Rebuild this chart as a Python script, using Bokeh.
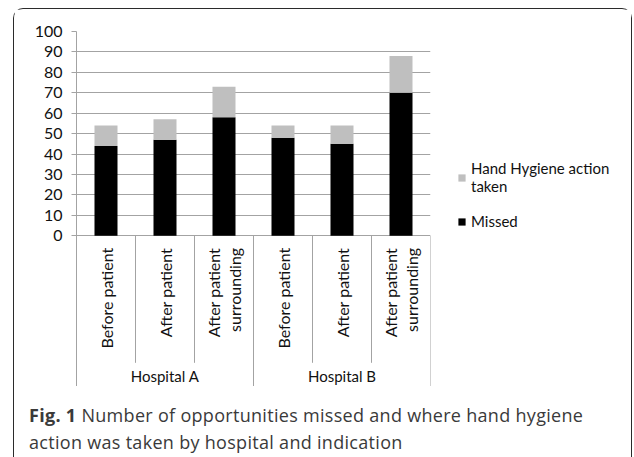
from math import pi

from bokeh.plotting import figure
from bokeh.layouts import column, row
from bokeh.models import (FactorRange, Range1d, FixedTicker, Legend, LegendItem,
                          ColumnDataSource, Div)
from bokeh.core.properties import value
from bokeh.embed import file_html
from bokeh.resources import INLINE

# ---- data ----
hospitals = ["Hospital A", "Hospital B"]
indications = ["Before patient", "After patient", "After patient\nsurrounding"]
missed = [44, 47, 58, 48, 45, 70]
taken = [10, 10, 15, 6, 9, 18]
y_ticks = [0, 10, 20, 30, 40, 50, 60, 70, 80, 90, 100]
series_names = ["Missed", "Hand Hygiene action\ntaken"]
series_colors = ["#000000", "#bfbfbf"]
caption_bold = "Fig. 1"
caption_line1 = "Number of opportunities missed and where hand hygiene"
caption_line2 = "action was taken by hospital and indication"

factors = [(h, i) for h in hospitals for i in indications]

FONT = "Lato"
GRID = "#a3a3a3"
TXT = "#111111"

p = figure(width=418, height=377,
           x_range=FactorRange(*factors, factor_padding=0, group_padding=0,
                               subgroup_padding=0, range_padding=0),
           y_range=Range1d(-73.8, 100),
           x_axis_location=None,
           output_backend="svg", toolbar_location=None,
           min_border_left=62, min_border_right=2,
           min_border_top=22, min_border_bottom=0,
           outline_line_color=None)

p.yaxis.ticker = FixedTicker(ticks=y_ticks)
p.yaxis.major_label_text_font = FONT
p.yaxis.major_label_text_font_size = "16px"
p.yaxis.major_label_text_color = TXT
p.yaxis.major_label_standoff = 9
p.yaxis.major_tick_out = 5
p.yaxis.major_tick_in = 0
p.yaxis.minor_tick_line_color = None
p.yaxis.axis_line_color = GRID
p.yaxis.major_tick_line_color = GRID
p.ygrid.ticker = FixedTicker(ticks=y_ticks)
p.ygrid.grid_line_color = GRID
p.xgrid.visible = False

src = ColumnDataSource(dict(x=factors, missed=missed, taken=taken))
rs = p.vbar_stack(["missed", "taken"], x="x", width=0.39, color=series_colors,
                  line_color=None, source=src)

# category separators below the axis
n = len(factors)
per = len(indications)
sep_x = list(range(n + 1))
sep_end = [-73.8 if i % per == 0 else -62.2 for i in sep_x]
p.segment(x0=sep_x, y0=[0] * (n + 1), x1=sep_x, y1=sep_end,
          line_color=GRID, line_width=1)

# category labels (rotated)
p.text(x=factors, y=-5.9, text=[f[1] for f in factors], angle=pi / 2,
       text_align="right", text_baseline="middle", text_font=value(FONT),
       text_font_size="16px", text_color=TXT, text_line_height=1.15)

# group labels
p.text(x=hospitals, y=-68.9, text=hospitals, text_align="center",
       text_baseline="middle", text_font=value(FONT), text_font_size="15px",
       text_color=TXT)

# legend panel (separate canvas so it is not clipped)
leg = figure(width=199, height=377, x_range=Range1d(0, 1), y_range=Range1d(0, 1),
             x_axis_location=None, y_axis_location=None,
             output_backend="svg", toolbar_location=None,
             min_border=0, outline_line_color=None)
leg.grid.visible = False
# zero-height swatch renderers (draw nothing on the canvas, only in the legend)
lr = [leg.vbar(x=[0.5], top=[0], bottom=[0], width=0.5, color=c, line_color=None)
      for c in series_colors]
legend = Legend(items=[LegendItem(label=series_names[1], renderers=[lr[1]]),
                       LegendItem(label=series_names[0], renderers=[lr[0]])],
                location=(25, 156), glyph_width=9, glyph_height=9,
                label_text_font=FONT, label_text_font_size="15px",
                label_text_color=TXT, label_standoff=5,
                label_text_line_height=1.35,
                border_line_color=None, background_fill_alpha=0,
                padding=0, margin=0, spacing=17)
leg.add_layout(legend)

cap = Div(text=f"<b>{caption_bold}</b> {caption_line1}<br>{caption_line2}",
          width=604, height=70,
          styles={"font-family": "'Open Sans'", "font-size": "18px",
                  "letter-spacing": "0.3px", "white-space": "nowrap",
                  "line-height": "27px", "color": "#3a3a3a",
                  "padding": "11px 0 0 10px"})

layout = column(row(p, leg), cap, margin=(8, 0, 0, 13), spacing=0,
                styles={"border": "1.5px solid #2b2b2b", "border-bottom": "none",
                        "border-radius": "10px 10px 0 0"})

open("out.html", "w").write(file_html(layout, INLINE))
